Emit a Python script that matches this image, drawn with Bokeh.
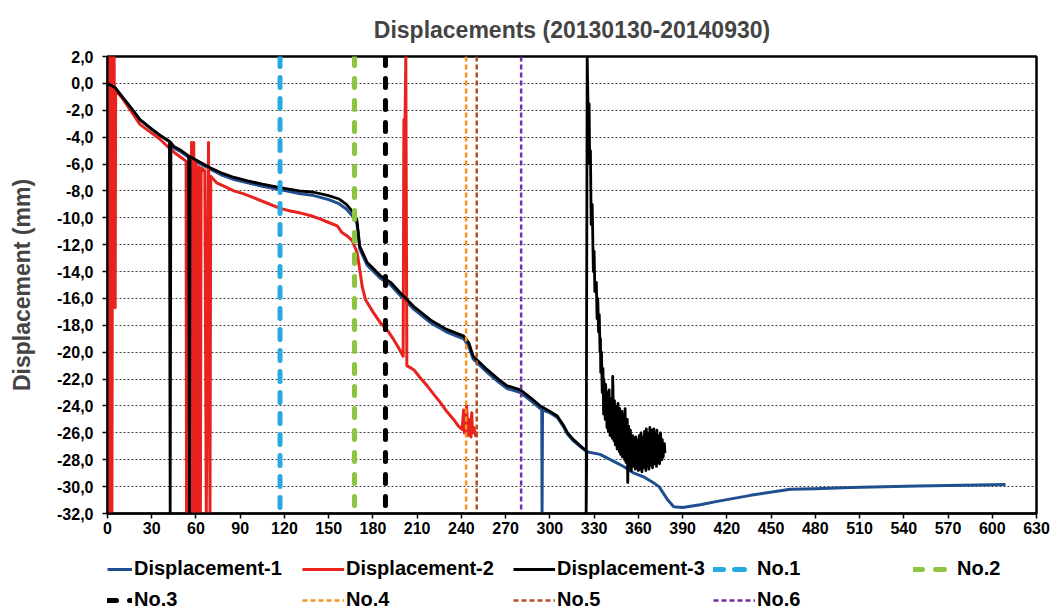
from bokeh.plotting import figure
from bokeh.models import Range1d, FixedTicker, Legend, LegendItem
from bokeh.layouts import column
from bokeh.embed import file_html
from bokeh.resources import INLINE

# ---------------- data ----------------
title_text = "Displacements (20130130-20140930)"
y_label = "Displacement (mm)"
x_ticks = [0, 30, 60, 90, 120, 150, 180, 210, 240, 270, 300, 330, 360, 390, 420, 450, 480, 510, 540, 570, 600, 630]
y_ticks = [2, 0, -2, -4, -6, -8, -10, -12, -14, -16, -18, -20, -22, -24, -26, -28, -30, -32]
y_tick_labels = ["2,0", "0,0", "-2,0", "-4,0", "-6,0", "-8,0", "-10,0", "-12,0", "-14,0", "-16,0",
                 "-18,0", "-20,0", "-22,0", "-24,0", "-26,0", "-28,0", "-30,0", "-32,0"]

series_names = ["Displacement-1", "Displacement-2", "Displacement-3"]

d1_x = [0, 5, 10, 15, 22, 30, 36, 42, 45, 50, 55, 60, 65, 70, 78, 86, 95, 105, 117, 130, 140, 150,
        157, 162, 166, 169, 170, 171, 176, 185, 192, 198.7, 207.7, 219, 230, 241.6, 245, 248, 257.5,
        265, 271, 280, 287, 293.6, 294.5, 294.7, 295, 300, 305, 309, 312, 316, 321, 325, 334, 343,
        350, 357, 364, 370, 374, 377, 380, 384, 390, 402, 413.5, 436, 463, 480, 504, 549, 580, 609]
d1_y = [0, -0.3, -1.0, -1.7, -2.7, -3.4, -3.9, -4.35, -4.8, -5.1, -5.5, -5.8, -6.1, -6.4, -6.85,
        -7.15, -7.4, -7.65, -7.9, -8.2, -8.35, -8.65, -8.95, -9.35, -9.85, -10.35, -11.2, -12.3,
        -13.5, -14.5, -15.0, -15.8, -16.8, -17.8, -18.5, -19.0, -19.6, -20.5, -21.5, -22.2, -22.7,
        -23.0, -23.6, -24.2, -24.25, -32.0, -24.3, -24.5, -24.85, -25.5, -26.1, -26.6, -27.05,
        -27.4, -27.6, -28.1, -28.5, -29.0, -29.3, -29.7, -30.0, -30.5, -31.0, -31.5, -31.55,
        -31.35, -31.1, -30.65, -30.2, -30.15, -30.06, -29.96, -29.9, -29.84]

d2_x = [0, 0.8, 1.2, 1.5, 2.2, 3, 3.5, 4.5, 5.2, 5.5, 10, 15, 22, 30, 35, 40.4, 46, 51.6, 53.3, 53.6, 54,
        55, 55.5, 57, 57.5, 58.5, 59.5, 60, 61, 62, 63, 63.5, 66, 67, 68.5, 69.5, 70, 74, 80,
        85.7, 92, 99, 108, 117, 124, 131, 138, 144.5, 150, 155.8, 159, 163, 166, 169.3, 171,
        172.7, 175, 180, 185, 190, 194, 197, 200.5, 201, 201.8, 202.3, 203, 207.7, 212, 216.8,
        221, 225.8, 230, 234.7, 238, 240.5, 241.5, 242, 243, 243.5, 244.5, 245.5, 246.5, 247,
        247.5, 248.5, 249.5, 250.7]
d2_y = [0, 2.0, -32.0, 2.0, -32.0, -32.0, 2.0, 2.0, -16.7, -0.5, -1.1, -1.9, -3.05, -3.7, -4.1, -4.66, -5.2,
        -5.65, -5.8, -32.0, -5.85, -5.9, -32.0, -4.4, -32.0, -4.4, -32.0, -6.0, -32.0, -6.2,
        -32.0, -6.3, -6.5, -32.0, -4.4, -32.0, -6.9, -7.4, -7.7, -8.0, -8.2, -8.5, -8.9, -9.3,
        -9.5, -9.65, -9.85, -10.1, -10.35, -10.6, -11.1, -11.4, -11.7, -12.6, -13.8, -15.1,
        -16.1, -17.0, -17.8, -18.4, -19.05, -19.6, -20.3, -2.7, -2.6, 2.0, -21.0, -21.3, -21.9,
        -22.5, -23.1, -23.75, -24.4, -25.0, -25.5, -25.75, -24.3, -26.0, -25.5, -24.0, -26.2,
        -25.0, -26.3, -24.5, -26.0, -25.6, -26.2, -25.9]

d3_x = [0, 5, 10, 15, 22, 30, 36, 42, 42.5, 43, 45, 50, 55, 55.6, 56, 60, 65, 70, 78, 86, 95,
        105, 117, 130, 140, 150, 157, 162, 166, 169, 170, 171, 176, 185, 192, 198.7, 207.7, 219,
        230, 241.6, 245, 248, 257.5, 265, 271, 280, 287, 293.6, 300, 305, 309, 312, 316, 321, 325,
        324.6, 325.3, 326.0, 326.6, 327.0, 327.5, 328.0, 328.7, 329.5, 330.0, 330.5, 331.5, 332.0,
        332.5, 333.0, 333.5, 334.0, 334.3, 334.5, 335.0, 335.5, 336.0, 336.4, 336.6, 337.2, 337.5,
        337.8, 338.4, 338.7, 339.0, 339.6, 340.2, 340.5, 340.8, 341.4, 342.0, 342.3, 342.6, 343.2,
        343.5, 343.8, 344.4, 345.0, 345.3, 345.6, 346.2, 346.8, 347.1, 347.4, 348.0, 348.6, 348.9,
        349.2, 349.8, 350.4, 350.7, 351.0, 351.6, 352.2, 352.5, 352.8, 353.4, 354.0, 354.3, 354.6,
        355.2, 355.8, 356.1, 356.4, 357.0, 357.6, 357.9, 358.2, 358.8, 359.4, 359.7, 360.0, 360.6,
        361.2, 361.5, 361.8, 362.4, 363.0, 363.3, 363.6, 364.2, 364.8, 365.1, 365.4, 366.0, 366.6,
        366.9, 367.2, 367.8, 368.4, 368.7, 369.0, 369.6, 370.2, 370.5, 370.8, 371.4, 372.0, 372.3,
        372.6, 373.2, 373.8, 374.1, 374.4, 375.0, 375.6, 375.9, 376.2, 376.8, 377.4, 377.7, 378.0,
        378.3]
d3_y = [0, -0.3, -1.0, -1.7, -2.7, -3.4, -3.9, -4.3, -32.0, -4.4, -4.7, -5.0, -5.4, -32.0, -5.45,
        -5.7, -6.0, -6.3, -6.7, -7.0, -7.25, -7.5, -7.75, -8.0, -8.1, -8.35, -8.6, -9.0, -9.5,
        -10.1, -11.0, -12.1, -13.3, -14.3, -14.8, -15.6, -16.6, -17.6, -18.3, -18.8, -19.3, -20.3,
        -21.3, -22.0, -22.5, -22.8, -23.4, -24.0, -24.4, -24.75, -25.4, -26.0, -26.5, -27.0,
        -27.35, -32.0, 2.0, -2.5, -1.5, -6.0, -5.0, -10.5, -9.0, -14.0, -12.5, -15.5, -14.8,
        -17.5, -16.0, -18.5, -17.2, -20.0, -19.0, -21.5, -20.0, -23.0, -21.2, -24.6, -22.0, -23.2,
        -25.0, -22.4, -24.0, -25.6, -23.0, -25.9, -22.8, -24.8, -26.2, -23.5, -25.5, -26.4, -21.8,
        -25.0, -26.6, -23.6, -26.9, -24.9, -24.0, -27.2, -23.8, -26.0, -27.4, -24.2, -27.6, -25.3,
        -24.4, -27.8, -24.6, -26.5, -28.0, -24.2, -28.2, -26.1, -25.0, -29.7, -25.5, -27.0, -28.6,
        -25.8, -28.8, -27.2, -26.2, -28.5, -26.4, -27.6, -28.7, -26.3, -28.6, -27.0, -26.5, -28.8,
        -26.2, -27.5, -28.7, -26.0, -28.9, -27.1, -26.3, -28.6, -25.9, -27.4, -28.8, -25.7, -28.5,
        -27.0, -26.0, -28.7, -25.6, -27.3, -28.4, -25.8, -28.6, -26.8, -25.7, -28.3, -26.0, -27.6,
        -28.5, -25.8, -28.2, -26.9, -26.2, -28.3, -26.0, -27.4, -28.0, -26.5, -27.8, -27.0, -26.8,
        -27.5]

marker_names = ["No.1", "No.2", "No.3", "No.4", "No.5", "No.6"]
marker_x = [117, 167.5, 188.5, 243.2, 250.4, 280.5]

# ---------------- styles ----------------
FONT = "Liberation Sans"
series_colors = ["#1F4F8F", "#E8221E", "#000000"]
series_widths = [3, 3, 2.8]
marker_colors = ["#27A9E1", "#8DC441", "#000000", "#F7941D", "#B0532A", "#7030A0"]
marker_widths = [5, 5, 5, 2.5, 2.5, 2.5]
marker_dashes = ["10 11", "9 13", "9 13", "5 3", "5 3", "5 3"]
marker_caps = ["round", "round", "round", "butt", "butt", "butt"]

W, H = 1053, 611
FL, FR, FT, FB = 107, 1036, 56, 513
MAIN_BOTTOM = 32
MAIN_H = FB + MAIN_BOTTOM
LEG_H = H - MAIN_H


def style_plot(fig):
    fig.background_fill_color = "white"
    fig.border_fill_color = "white"


p = figure(frame_width=FR - FL, frame_height=FB - FT, output_backend="svg", toolbar_location=None,
           x_range=Range1d(x_ticks[0], x_ticks[-1]), y_range=Range1d(y_ticks[-1], y_ticks[0]),
           min_border_left=FL, min_border_right=W - FR, min_border_top=FT,
           min_border_bottom=MAIN_BOTTOM, title=title_text)
style_plot(p)
p.outline_line_color = "black"
p.outline_line_width = 2.5

p.title.align = "center"
p.title.text_font = FONT
p.title.text_font_size = "23px"
p.title.text_font_style = "bold"
p.title.standoff = 28

p.xaxis.ticker = FixedTicker(ticks=x_ticks)
p.yaxis.ticker = FixedTicker(ticks=y_ticks)
p.yaxis.major_label_overrides = dict(zip(y_ticks, y_tick_labels))
p.yaxis.axis_label = y_label
for ax in (p.xaxis, p.yaxis):
    ax.major_label_text_font = FONT
    ax.major_label_text_font_size = "16px"
    ax.major_label_text_font_style = "bold"
    ax.major_label_text_color = "black"
    ax.axis_line_color = "black"
    ax.axis_line_width = 2
    ax.major_tick_line_color = "black"
    ax.major_tick_line_width = 1.5
    ax.major_tick_out = 5
    ax.major_tick_in = 0
    ax.minor_tick_line_color = None
p.xaxis.major_label_standoff = 3
p.yaxis.major_label_standoff = 9
p.yaxis.axis_label_text_font = FONT
p.yaxis.axis_label_text_font_size = "23px"
p.yaxis.axis_label_text_font_style = "bold"
p.yaxis.axis_label_standoff = 19

p.xgrid.grid_line_color = None
p.ygrid.grid_line_color = "#222222"
p.ygrid.grid_line_dash = "2 2"
p.ygrid.grid_line_width = 1.2
p.ygrid.grid_line_alpha = 0.85

series_x = [d1_x, d2_x, d3_x]
series_y = [d1_y, d2_y, d3_y]


def draw_all(fig):
    rs = []
    for xs, ys, c, w in zip(series_x, series_y, series_colors, series_widths):
        rs.append(fig.line(xs, ys, line_color=c, line_width=w, line_join="round"))
    for mx, c, w, d, cap in zip(marker_x, marker_colors, marker_widths, marker_dashes, marker_caps):
        rs.append(fig.segment(x0=[mx], y0=[y_ticks[0]], x1=[mx], y1=[y_ticks[-1]],
                              line_color=c, line_width=w, line_dash=d, line_cap=cap))
    return rs


draw_all(p)

# ---------------- legend strip (same series, view range kept off the data) ----------------
lg = figure(frame_width=FR - FL, frame_height=LEG_H, output_backend="svg", toolbar_location=None,
            x_range=Range1d(10 * x_ticks[-1], 10 * x_ticks[-1] + 1),
            y_range=Range1d(10 * x_ticks[-1], 10 * x_ticks[-1] + 1),
            x_axis_type=None, y_axis_type=None,
            min_border_left=FL, min_border_right=W - FR, min_border_top=0, min_border_bottom=0)
style_plot(lg)
lg.outline_line_color = None
leg_renderers = draw_all(lg)

labels = series_names + marker_names
ROW_H = 20
row_centers = [570, 601]
col_lefts = [FL, 302, 513, 713, 913]
col_glyph_w = [25, 42, 42, 42, 42]
cells = [(i, 0) for i in range(5)] + [(i, 1) for i in range(4)]
for r, lab, (ci, ri) in zip(leg_renderers, labels, cells):
    lx, cy = col_lefts[ci], row_centers[ri]
    bottom_from_page_bottom = H - (cy + ROW_H // 2)
    leg = Legend(items=[LegendItem(label=lab, renderers=[r])],
                 location=(lx - FL, bottom_from_page_bottom), orientation="horizontal",
                 padding=0, margin=0, spacing=0, label_standoff=2,
                 glyph_width=col_glyph_w[ci], glyph_height=ROW_H, label_height=ROW_H,
                 label_text_font=FONT, label_text_font_size="20px",
                 label_text_font_style="bold", label_text_color="black",
                 border_line_color=None, background_fill_alpha=0)
    lg.add_layout(leg, "center")

layout = column(p, lg, spacing=0)
open("out.html", "w").write(file_html(layout, INLINE))
